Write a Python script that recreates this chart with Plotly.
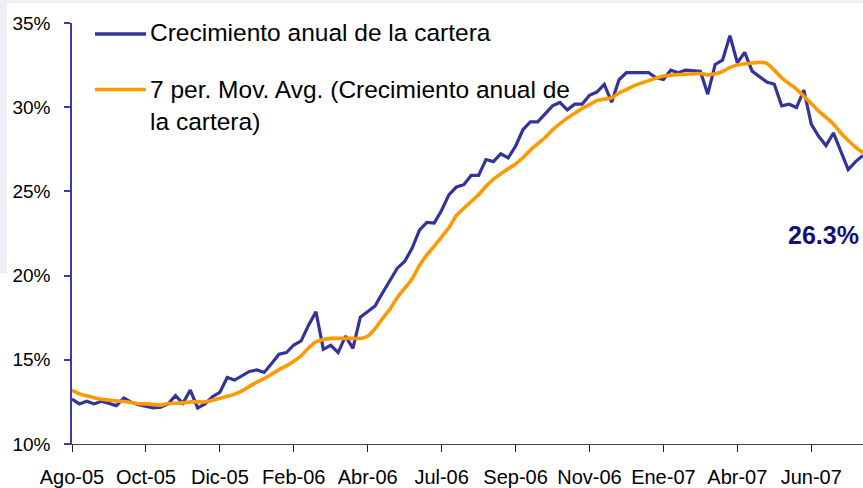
import plotly.graph_objects as go

# ---- data ----
x_labels = ["Ago-05", "Oct-05", "Dic-05", "Feb-06", "Abr-06", "Jul-06",
            "Sep-06", "Nov-06", "Ene-07", "Abr-07", "Jun-07"]
points_per_label = 10

crecimiento = [
    12.67, 12.38, 12.54, 12.38, 12.54, 12.42, 12.28, 12.73, 12.48, 12.34,
    12.22, 12.14, 12.18, 12.38, 12.87, 12.42, 13.20, 12.14, 12.38, 12.81,
    13.07, 13.95, 13.80, 14.05, 14.31, 14.40, 14.25, 14.78, 15.33, 15.43,
    15.88, 16.12, 17.06, 17.85, 15.62, 15.86, 15.43, 16.41, 15.68, 17.53,
    17.89, 18.20, 18.97, 19.75, 20.44, 20.84, 21.62, 22.70, 23.16, 23.12,
    23.88, 24.81, 25.26, 25.40, 25.95, 25.95, 26.89, 26.77, 27.23, 26.99,
    27.68, 28.66, 29.13, 29.13, 29.60, 30.08, 30.28, 29.84, 30.18, 30.18,
    30.71, 30.90, 31.36, 30.30, 31.63, 32.05, 32.05, 32.05, 32.05, 31.75,
    31.65, 32.20, 32.05, 32.20, 32.17, 32.14, 30.77, 32.54, 32.79, 34.25,
    32.64, 33.26, 32.14, 31.80, 31.49, 31.36, 30.08, 30.18, 29.98, 31.02,
    29.00, 28.27, 27.72, 28.47, 27.33, 26.30, 26.77, 27.13,
]

media_movil = [
    13.20, 12.98, 12.86, 12.75, 12.66, 12.61, 12.56, 12.52, 12.47, 12.39,
    12.38, 12.35, 12.31, 12.40, 12.42, 12.44, 12.50, 12.50, 12.50, 12.60,
    12.72, 12.83, 12.96, 13.15, 13.42, 13.67, 13.88, 14.15, 14.42, 14.64,
    14.91, 15.24, 15.70, 16.07, 16.21, 16.27, 16.27, 16.27, 16.27, 16.27,
    16.40, 16.85, 17.45, 18.00, 18.70, 19.25, 19.80, 20.60, 21.23, 21.75,
    22.30, 22.85, 23.57, 24.00, 24.40, 24.80, 25.30, 25.72, 26.04, 26.34,
    26.63, 27.00, 27.45, 27.83, 28.20, 28.65, 29.02, 29.35, 29.64, 29.93,
    30.16, 30.40, 30.48, 30.55, 30.85, 31.05, 31.27, 31.43, 31.58, 31.72,
    31.85, 31.90, 31.94, 31.96, 31.98, 32.00, 31.92, 31.98, 32.12, 32.35,
    32.50, 32.58, 32.62, 32.67, 32.60, 32.20, 31.75, 31.40, 31.08, 30.65,
    30.22, 29.77, 29.40, 29.00, 28.47, 28.02, 27.62, 27.30,
]

y_ticks = [10, 15, 20, 25, 30, 35]
y_tick_text = ["10%", "15%", "20%", "25%", "30%", "35%"]

name_1 = "Crecimiento anual de la cartera"
name_2 = "7 per. Mov. Avg. (Crecimiento anual de<br>la cartera)"
last_label = "26.3%"

# ---- styling ----
FONT = "Arial, 'Liberation Sans', sans-serif"
BLUE = "#333399"
ORANGE = "#FF9900"
AXIS_BLUE = "#3a3ab0"

W, H = 863, 488
L, R, T, B = 72, 0, 23, 41
pw, ph = W - L - R, H - T - B


def px(xp):
    return (xp - L) / pw


def py(yp):
    return (H - B - yp) / ph


x_idx = list(range(len(crecimiento)))

fig = go.Figure()
fig.add_trace(go.Scatter(x=x_idx, y=crecimiento, mode="lines", name=name_1,
                         line=dict(color=BLUE, width=3.2), showlegend=False))
fig.add_trace(go.Scatter(x=x_idx, y=media_movil, mode="lines", name=name_2,
                         line=dict(color=ORANGE, width=3.6, shape="spline", smoothing=0.4),
                         showlegend=False))

shapes = [
    # pale background band (top and left edge)
    dict(type="rect", xref="paper", yref="paper", x0=px(0), x1=px(W), y0=py(3), y1=py(0),
         fillcolor="#eeeef6", line=dict(width=0), layer="below"),
    dict(type="rect", xref="paper", yref="paper", x0=px(0), x1=px(7), y0=py(275), y1=py(0),
         fillcolor="#eeeef6", line=dict(width=0), layer="below"),
    # legend samples
    dict(type="line", xref="paper", yref="paper", x0=px(95), x1=px(146), y0=py(34), y1=py(34),
         line=dict(color=BLUE, width=3.5)),
    dict(type="line", xref="paper", yref="paper", x0=px(95), x1=px(146), y0=py(90), y1=py(90),
         line=dict(color=ORANGE, width=3.5)),
]

annotations = [
    dict(xref="paper", yref="paper", x=px(148), y=py(33), xanchor="left", yanchor="middle",
         text=name_1, showarrow=False, font=dict(family=FONT, size=24.5, color="black")),
    dict(xref="paper", yref="paper", x=px(148), y=py(106), xanchor="left", yanchor="middle",
         text=name_2, showarrow=False, align="left",
         font=dict(family=FONT, size=24.5, color="black")),
    dict(xref="paper", yref="paper", x=px(861), y=py(237), xanchor="right", yanchor="middle",
         text="<b>" + last_label + "</b>", showarrow=False,
         font=dict(family=FONT, size=25, color="#10107a")),
]

fig.update_layout(
    width=W, height=H,
    margin=dict(l=L, r=R, t=T, b=B, pad=0),
    paper_bgcolor="white", plot_bgcolor="white",
    showlegend=False,
    shapes=shapes, annotations=annotations,
    font=dict(family=FONT, color="black"),
)

fig.update_xaxes(
    range=[0, len(crecimiento) - 1],
    tickmode="array",
    tickvals=[k * points_per_label for k in range(len(x_labels))],
    ticktext=x_labels,
    showline=True, linecolor="#444444", linewidth=1.2,
    ticks="outside", ticklen=7, tickcolor="#222222", tickwidth=1.2,
    showgrid=False, zeroline=False,
    tickfont=dict(family=FONT, size=20, color="black"),
    ticklabelstandoff=8,
)
fig.update_yaxes(
    range=[10, 35],
    tickmode="array", tickvals=y_ticks, ticktext=y_tick_text,
    showline=True, linecolor=AXIS_BLUE, linewidth=1.5,
    ticks="outside", ticklen=6, tickcolor=AXIS_BLUE, tickwidth=1.5,
    showgrid=False, zeroline=False,
    tickfont=dict(family=FONT, size=19, color="black"),
    ticklabelstandoff=10,
)

fig.write_html("out.html",
               config={"displayModeBar": False},
               post_script="document.body.style.margin='0px';document.body.style.overflow='hidden';")
